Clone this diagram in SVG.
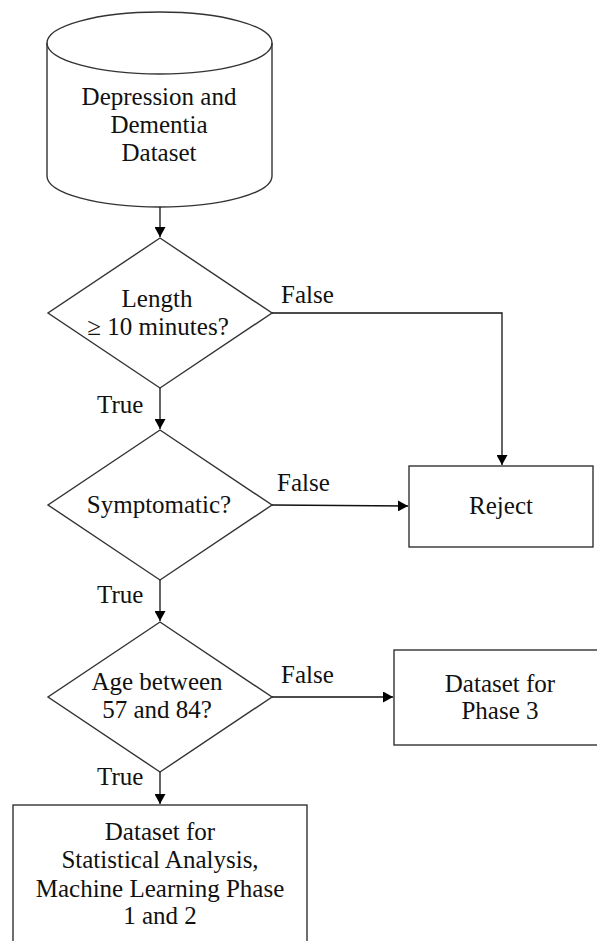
<svg xmlns="http://www.w3.org/2000/svg" width="597" height="941" viewBox="0 0 597 941">
<style>
text{font-family:'Liberation Serif','DejaVu Serif',serif;font-size:25px;fill:#111;text-anchor:middle}
.lbl{text-anchor:start}
.shape{fill:#fff;stroke:#333;stroke-width:1.4}
.conn{fill:none;stroke:#111;stroke-width:1.3}
</style>
<defs>
<marker id="ah" markerWidth="10" markerHeight="11" refX="10" refY="5.5" orient="auto" markerUnits="userSpaceOnUse">
<path d="M0,0 L10,5.5 L0,11 z" fill="#000"/>
</marker>
</defs>
<rect width="597" height="941" fill="#fff"/>
<g font-family="Liberation Serif, DejaVu Serif, serif">
<g id="dataset">
<path class="shape" d="M47,43 L47,176 A112.5,31 0 0 0 272,176 L272,43 A112.5,31 0 0 0 47,43 Z"/>
<path class="shape" style="fill:none" d="M47,43 A112.5,31 0 0 0 272,43"/>
<text x="159" y="105">Depression and</text>
<text x="159" y="133">Dementia</text>
<text x="159" y="161">Dataset</text>
</g>
<g id="length">
<polygon class="shape" points="160,238 272,313 160,388 48,313"/>
<text x="157" y="307">Length</text>
<text x="158" y="335">≥ 10 minutes?</text>
</g>
<g id="symptomatic">
<polygon class="shape" points="160,430 272,505 160,580 48,505"/>
<text x="159" y="513">Symptomatic?</text>
</g>
<g id="age">
<polygon class="shape" points="160,622 272,697 160,772 48,697"/>
<text x="157" y="690">Age between</text>
<text x="157" y="718">57 and 84?</text>
</g>
<g id="reject">
<rect class="shape" x="409" y="466" width="184" height="81"/>
<text x="501" y="514">Reject</text>
</g>
<g id="phase3">
<rect class="shape" x="394" y="650" width="216" height="95"/>
<text x="500" y="692">Dataset for</text>
<text x="500" y="719">Phase 3</text>
</g>
<g id="stats">
<rect class="shape" x="13" y="805" width="294" height="150"/>
<text x="160" y="840">Dataset for</text>
<text x="160" y="868">Statistical Analysis,</text>
<text x="160" y="897">Machine Learning Phase</text>
<text x="160" y="924">1 and 2</text>
</g>
<g id="connectors">
<line class="conn" x1="160" y1="207" x2="160" y2="237" marker-end="url(#ah)"/>
<polyline class="conn" points="272,313 502,313 502,465" marker-end="url(#ah)"/>
<line class="conn" x1="160" y1="388" x2="160" y2="429" marker-end="url(#ah)"/>
<line class="conn" x1="272" y1="505" x2="408" y2="506" marker-end="url(#ah)"/>
<line class="conn" x1="160" y1="580" x2="160" y2="621" marker-end="url(#ah)"/>
<line class="conn" x1="272" y1="697" x2="393" y2="697" marker-end="url(#ah)"/>
<line class="conn" x1="160" y1="772" x2="160" y2="804" marker-end="url(#ah)"/>
<text class="lbl" x="281" y="303">False</text>
<text class="lbl" x="97" y="413">True</text>
<text class="lbl" x="277" y="491">False</text>
<text class="lbl" x="97" y="603">True</text>
<text class="lbl" x="281" y="683">False</text>
<text class="lbl" x="97" y="785">True</text>
</g>
</g>
</svg>
